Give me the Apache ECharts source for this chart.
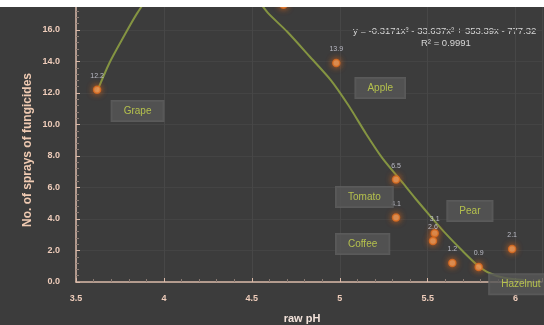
<!DOCTYPE html>
<html>
<head>
<meta charset="utf-8">
<script src="https://cdn.jsdelivr.net/npm/echarts@6/dist/echarts.min.js"></script>
<style>
  html, body { margin: 0; padding: 0; background: #ffffff; }
  #chart { width: 544px; height: 325px; }
</style>
</head>
<body>
<div id="chart"></div>
<script>
// measured points: raw pH vs number of fungicide sprays
const phValues = [3.62, 4.68, 4.98, 5.32, 5.32, 5.54, 5.53, 5.64, 5.79, 5.98];
const sprayValues = [12.2, 17.6, 13.9, 6.5, 4.1, 3.1, 2.6, 1.2, 0.95, 2.1];

// polynomial trendline
const trendX = [3.62, 3.69, 3.77, 3.85, 3.95, 4.2, 4.45, 4.59, 4.7, 4.83, 4.95, 5.05, 5.15, 5.24, 5.35, 5.43, 5.51, 5.6, 5.7, 5.78, 5.85, 5.94, 6.05];
const trendY = [12.1, 13.9, 15.55, 17.1, 18.6, 20.3, 19.0, 17.1, 15.9, 14.3, 12.8, 11.2, 9.4, 7.9, 6.4, 5.3, 4.25, 3.1, 1.95, 1.1, 0.57, 0.25, 0.12];

// crop name boxes
const cropNames = ["Grape", "Apple", "Tomato", "Coffee", "Pear", "Hazelnut"];
const cropX = [3.85, 5.23, 5.14, 5.13, 5.74, 6.03];
const cropY = [10.86, 12.32, 5.4, 2.41, 4.5, -0.15];

const equationText = "y = -0.3171x\u00b3 - 33.637x\u00b2 + 353.39x - 777.32";
const r2Text = "R\u00b2 = 0.9991";

const chart = echarts.init(document.getElementById("chart"));

const axisColor = "#d9b9a8";
const labelColor = "#efcdbb";

const option = {
  backgroundColor: "#3c3c3c",
  animation: false,
  grid: { left: 76, right: 2, top: 1.6, bottom: 43, outerBoundsMode: "none" },
  xAxis: {
    type: "value",
    min: 3.5,
    max: 6.15,
    interval: 0.5,
    name: "raw pH",
    nameLocation: "middle",
    nameGap: 31,
    nameTextStyle: { color: "#f2e2da", fontSize: 11, fontWeight: "bold", fontFamily: "Liberation Sans", padding: [0, 14, 0, 0] },
    axisLine: { lineStyle: { color: axisColor, width: 1.5 } },
    axisTick: { show: true, inside: true, length: 4, lineStyle: { color: axisColor } },
    minorTick: { show: true, splitNumber: 5, length: 3, lineStyle: { color: "#8a7a72" } },
    axisLabel: {
      color: labelColor, fontSize: 9, fontWeight: "bold", fontFamily: "Liberation Sans",
      margin: 12,
      formatter: v => (v > 6.05 ? "" : String(v))
    },
    splitLine: { show: true, lineStyle: { color: "#474747", width: 1 } }
  },
  yAxis: {
    type: "value",
    min: 0,
    max: 17.8,
    interval: 2,
    axisLine: { show: true, lineStyle: { color: axisColor, width: 1.5 } },
    axisTick: { show: true, inside: true, length: 4, lineStyle: { color: axisColor } },
    minorTick: { show: true, splitNumber: 5, length: 3, lineStyle: { color: "#8a7a72" } },
    axisLabel: {
      color: labelColor, fontSize: 9, fontWeight: "bold", fontFamily: "Liberation Sans",
      margin: 16,
      formatter: v => (v > 17 ? "" : v.toFixed(1))
    },
    splitLine: { show: true, lineStyle: { color: "#444444", width: 1 } }
  },
  series: [
    {
      name: "Trendline",
      type: "line",
      data: trendX.map((x, i) => [x, trendY[i]]),
      smooth: 0.25,
      showSymbol: false,
      clip: true,
      lineStyle: { color: "#849442", width: 2 },
      z: 2
    },
    {
      name: "Sprays",
      type: "scatter",
      data: phValues.map((x, i) => [x, sprayValues[i]]),
      symbolSize: 7,
      clip: false,
      itemStyle: {
        color: "#f4a96a",
        borderColor: "#d96a1e",
        borderWidth: 1.5,
        shadowBlur: 6,
        shadowColor: "#e0661a"
      },
      label: {
        show: true,
        position: "top",
        distance: 6,
        color: "#d8d8e6",
        fontSize: 7,
        fontFamily: "Liberation Sans",
        formatter: p => p.value[1].toFixed(1)
      },
      z: 3
    },
    {
      name: "Crops",
      type: "scatter",
      data: cropX.map((x, i) => ({ value: [x, cropY[i]], name: cropNames[i] })),
      symbolSize: 0,
      clip: false,
      silent: true,
      label: {
        show: true,
        position: "inside",
        formatter: p => p.name,
        color: "#cddc4c",
        fontSize: 10,
        fontFamily: "Liberation Sans",
        backgroundColor: "#565656",
        borderColor: "#626262",
        borderWidth: 1,
        padding: [5, 12, 5, 12]
      },
      z: 4
    }
  ],
  graphic: [
    {
      type: "text",
      x: 28, y: 150,
      rotation: Math.PI / 2,
      style: {
        text: "No. of sprays of fungicides",
        fill: "#efcab2",
        font: "bold 12px 'Liberation Sans'",
        align: "center",
        verticalAlign: "middle"
      }
    },
    {
      type: "text",
      left: 353, top: 26,
      style: { text: equationText, fill: "#d6d6d6", font: "9.5px 'Liberation Sans'" }
    },
    {
      type: "text",
      left: 421, top: 38,
      style: { text: r2Text, fill: "#d6d6d6", font: "9.5px 'Liberation Sans'" }
    },
    {
      type: "rect",
      left: 0, top: 0, z: 100,
      shape: { width: 544, height: 7 },
      style: { fill: "#ffffff" }
    }
  ]
};

chart.setOption(option);
</script>
</body>
</html>
